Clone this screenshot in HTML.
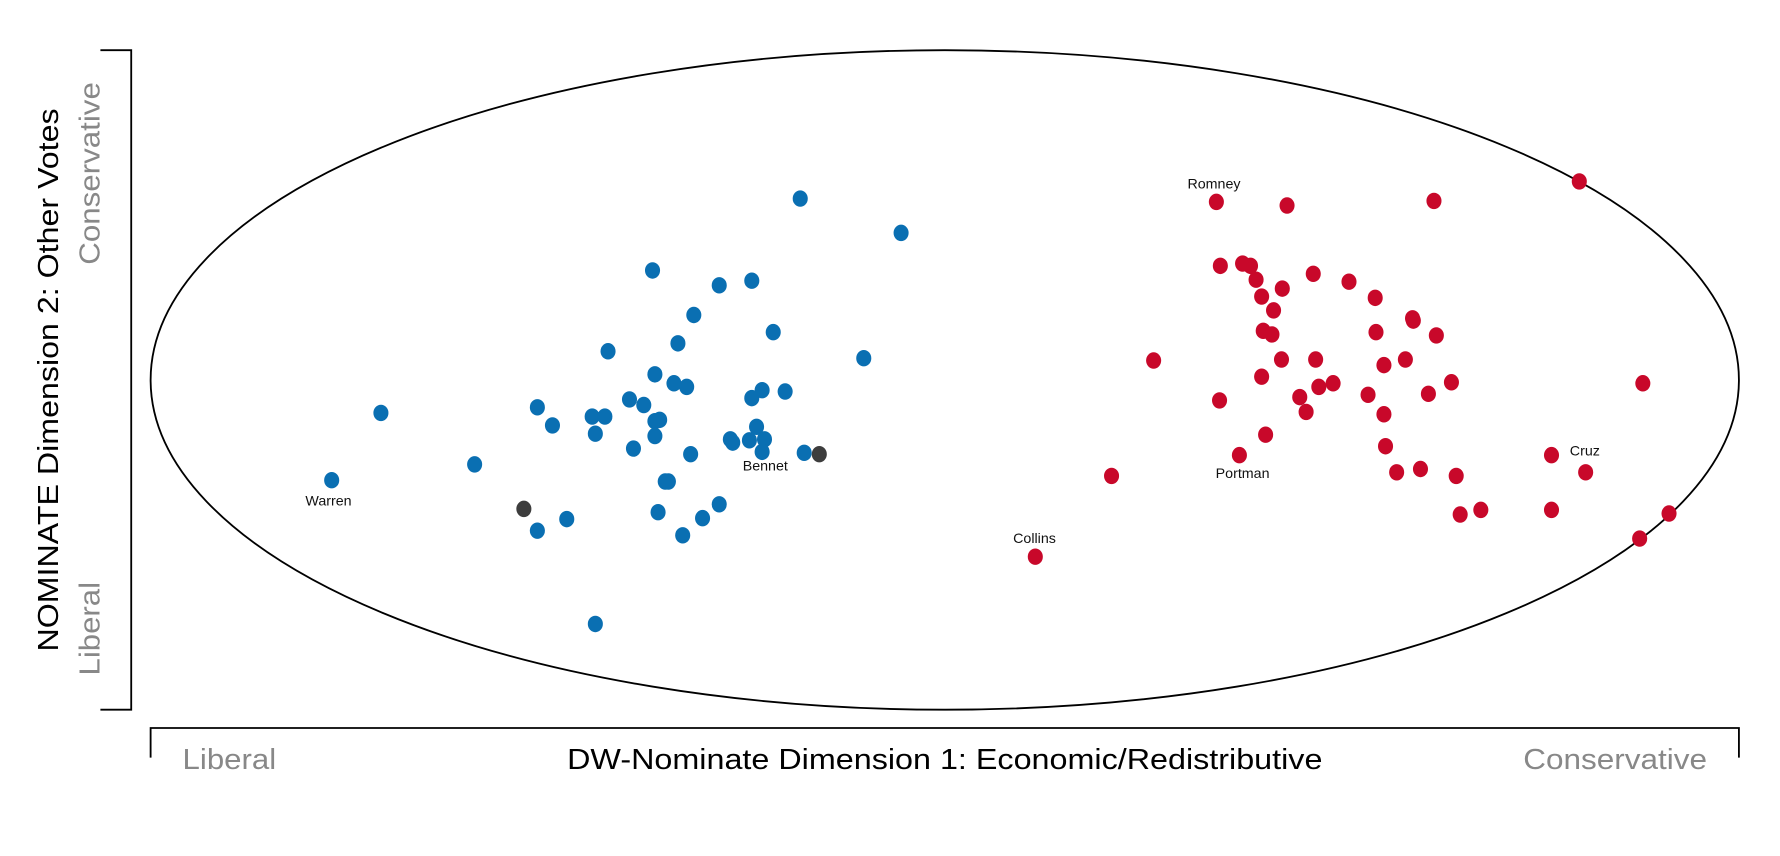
<!DOCTYPE html>
<html><head><meta charset="utf-8">
<style>
html,body{margin:0;padding:0;background:#fff;}
svg{display:block;}
text{font-family:"Liberation Sans",sans-serif;}
</style></head>
<body>
<svg id="chart" width="1780" height="856" viewBox="0 0 1560 750.2" xmlns="http://www.w3.org/2000/svg">
  <rect width="1560" height="751" fill="#fff"/>
  <ellipse cx="828" cy="333" rx="696" ry="289" fill="none" stroke="#000" stroke-width="1.6"/>
  <g stroke="#000" stroke-width="1.6" fill="none">
    <path d="M88,44 H115 V622 H88"/>
  </g>
  <g stroke="#000" stroke-width="1.6" fill="none">
    <path d="M132,664 V638 H1524 V664"/>
  </g>
  <text x="828" y="674" font-size="25" text-anchor="middle" textLength="662" lengthAdjust="spacingAndGlyphs" fill="#000">DW-Nominate Dimension 1: Economic/Redistributive</text>
  <text x="160" y="674" font-size="25" textLength="82" lengthAdjust="spacingAndGlyphs" fill="#888">Liberal</text>
  <text x="1335" y="674" font-size="25" textLength="161" lengthAdjust="spacingAndGlyphs" fill="#888">Conservative</text>
  <text transform="translate(51,333) rotate(-90)" font-size="25" text-anchor="middle" textLength="476" lengthAdjust="spacingAndGlyphs" fill="#000">NOMINATE Dimension 2: Other Votes</text>
  <text transform="translate(87,232) rotate(-90)" font-size="25" textLength="160" lengthAdjust="spacingAndGlyphs" fill="#888">Conservative</text>
  <text transform="translate(87,592) rotate(-90)" font-size="25" textLength="82" lengthAdjust="spacingAndGlyphs" fill="#888">Liberal</text>
  <g id="points"></g>
  <g id="labels"></g>
</svg>
<script>
// DW-NOMINATE scores: dimension 1 (x) and dimension 2 (y), each in [-1, 1]
const demDim1 = [-0.182,-0.055,-0.368,-0.284,-0.243,-0.316,-0.216,-0.336,-0.424,-0.102,-0.365,-0.341,-0.325,-0.230,-0.201,-0.243,-0.397,-0.513,-0.379,-0.710,-0.444,-0.428,-0.365,-0.359,-0.494,-0.237,-0.440,-0.365,-0.270,-0.267,-0.246,-0.227,-0.392,-0.230,-0.320,-0.177,-0.592,-0.772,-0.352,-0.348,-0.284,-0.361,-0.305,-0.476,-0.513,-0.330,-0.440];
const demDim2 = [0.550,0.446,0.332,0.287,0.301,0.197,0.145,0.111,0.087,0.066,0.017,-0.010,-0.021,-0.031,-0.035,-0.055,-0.059,-0.083,-0.076,-0.100,-0.111,-0.111,-0.125,-0.121,-0.138,-0.142,-0.163,-0.170,-0.180,-0.190,-0.183,-0.180,-0.208,-0.218,-0.225,-0.221,-0.256,-0.304,-0.308,-0.308,-0.377,-0.401,-0.419,-0.422,-0.457,-0.471,-0.740];
const indDim1 = [-0.530,-0.158];
const indDim2 = [-0.391,-0.225];
const repDim1 = [0.799,0.342,0.431,0.616,0.347,0.375,0.385,0.392,0.464,0.509,0.399,0.425,0.542,0.414,0.589,0.590,0.401,0.412,0.543,0.619,0.263,0.424,0.467,0.553,0.580,0.399,0.471,0.489,0.638,0.879,0.346,0.447,0.533,0.609,0.455,0.553,0.404,0.555,0.371,0.764,0.210,0.569,0.599,0.644,0.807,0.649,0.675,0.764,0.912,0.875,0.114];
const repDim2 = [0.602,0.540,0.529,0.543,0.346,0.353,0.346,0.304,0.322,0.298,0.253,0.277,0.249,0.211,0.187,0.180,0.149,0.138,0.145,0.135,0.059,0.062,0.062,0.045,0.062,0.010,-0.021,-0.010,-0.007,-0.010,-0.062,-0.052,-0.045,-0.042,-0.097,-0.104,-0.166,-0.201,-0.228,-0.228,-0.291,-0.280,-0.270,-0.291,-0.280,-0.408,-0.394,-0.394,-0.405,-0.481,-0.536];
const labelNames = ["Romney","Portman","Collins","Cruz","Bennet","Warren"];
const labelDim1 = [0.339,0.375,0.113,0.806,-0.226,-0.776];
const labelDim2 = [0.595,-0.284,-0.481,-0.215,-0.260,-0.367];

const CX = 828, CY = 333, RX = 696, RY = 289;
function xScale(v){ return CX + v * RX; }
function yScale(v){ return CY - v * RY; }

const NS = "http://www.w3.org/2000/svg";
const gPts = document.getElementById('points');
function drawSeries(xs, ys, color, name){
  for (let i = 0; i < xs.length; i++){
    const c = document.createElementNS(NS, 'ellipse');
    c.setAttribute('cx', xScale(xs[i]));
    c.setAttribute('cy', yScale(ys[i]));
    c.setAttribute('rx', 6.6);
    c.setAttribute('ry', 7.2);
    c.setAttribute('fill', color);
    
    
    gPts.appendChild(c);
  }
}
drawSeries(demDim1, demDim2, '#0a6fb2', 'democrat-point');
drawSeries(indDim1, indDim2, '#3d3d3d', 'independent-point');
drawSeries(repDim1, repDim2, '#c8082a', 'republican-point');

const gLab = document.getElementById('labels');
for (let i = 0; i < labelNames.length; i++){
  const t = document.createElementNS(NS, 'text');
  t.setAttribute('x', xScale(labelDim1[i]));
  t.setAttribute('y', yScale(labelDim2[i]) + 4);
  t.setAttribute('font-size', '12.5');
  t.setAttribute('text-anchor', 'middle');
  t.setAttribute('fill', '#111');
  t.textContent = labelNames[i];
  
  
  gLab.appendChild(t);
}
</script>
</body></html>
